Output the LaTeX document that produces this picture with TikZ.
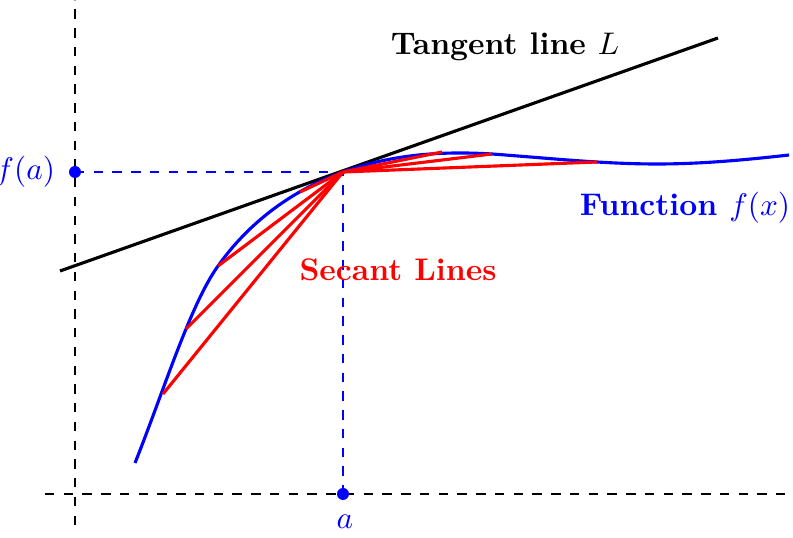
\documentclass[tikz,border=0pt]{standalone}

\begin{document}
\begin{tikzpicture}[x=0.32pt,y=0.32pt]
\useasboundingbox (0,0) rectangle (793,538);
\tikzset{axisline/.style={dashed,line width=0.6pt},
  guide/.style={blue,dashed,line width=0.6pt},
  secant/.style={red,line width=1pt}}
% axes
\draw[axisline] (75,13) -- (75,538);
\draw[axisline] (45,44) -- (785,44);
% the point (a,f(a))
\coordinate (P) at (343,366);
\coordinate (FA) at (75,366);
\coordinate (A) at (343,44);
\draw[guide] (FA) -- (P) -- (A);
% tangent line
\coordinate (T1) at (60,267);
\coordinate (T2) at (718,500);
\draw[line width=1pt] (T1) -- (T2);
% function
\draw[blue,line width=1pt] (135,75) .. controls (163,145) and (190,233) .. (218,272)
  .. controls (250,317) and (293,348) .. (P)
  .. controls (393,384) and (442,387) .. (492,384)
  .. controls (547,380) and (602,374) .. (657,374)
  .. controls (701,374) and (745,378) .. (789,383);
% secants
\coordinate (S1) at (163,144);
\coordinate (S2) at (186,209);
\coordinate (S3) at (218,272);
\coordinate (S4) at (300,346);
\coordinate (S5) at (442,386);
\coordinate (S6) at (492,384);
\coordinate (S7) at (597,376);
\foreach \s in {S1,S2,S3,S4,S5,S6,S7}
  \draw[secant] (P) -- (\s);
% dots and labels
\fill[blue] (FA) circle (6);
\fill[blue] (A) circle (6);
\node[text=blue,anchor=east] (lblfa) at (66,366) {$f(a)$};
\node[text=blue,anchor=base] (lbla) at (345,9) {$a$};
\node[font=\bfseries] (lbltan) at (505,491) {Tangent line $L$};
\node[text=blue,font=\bfseries] (lblfun) at (685,330) {Function $f(x)$};
\node[text=red,font=\bfseries] (lblsec) at (398,268) {Secant Lines};
\end{tikzpicture}
\end{document}
